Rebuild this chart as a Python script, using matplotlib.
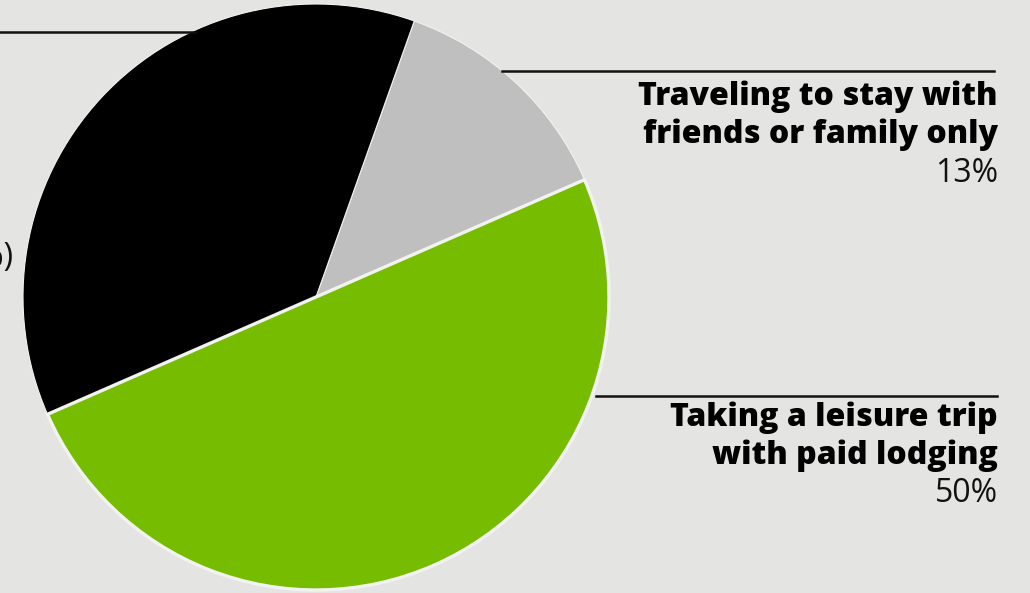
import matplotlib.pyplot as plt

# share of respondents by travel plan
labels = ['Traveling to stay with\nfriends or family only',
          'Taking a leisure trip\nwith paid lodging',
          'Not traveling']
shares = [13, 50, 37]
colors = ['#bfbfbf', '#76bc00', '#000000']

W, H = 1030, 593
bg = '#e4e4e2'

plt.rcParams['font.family'] = ['Open Sans', 'DejaVu Sans']

fig = plt.figure(figsize=(W / 100, H / 100), dpi=100, facecolor=bg)
ax = fig.add_axes([0, 0, 1, 1])
ax.set_facecolor(bg)

cx, cy, r = 316, H - 297, 293
wedges, _ = ax.pie(shares, colors=colors, startangle=70.4, counterclock=False,
                   center=(cx, cy), radius=r,
                   wedgeprops=dict(edgecolor='#f2f2f0', linewidth=0.8))
# highlighted slice gets a thicker outline
wedges[1].set_linewidth(2.4)
wedges[1].set_zorder(3)

ax.set_xlim(0, W)
ax.set_ylim(0, H)
ax.set_aspect('equal')
ax.axis('off')

def y(v):
    return H - v

# leader lines
ax.plot([502, 994], [y(71), y(71)], color='#111111', lw=1.8, zorder=1)
ax.plot([596, 997], [y(396), y(396)], color='#111111', lw=1.8, zorder=1)
ax.plot([0, 195], [y(32), y(32)], color='#111111', lw=1.8, zorder=1)

# labels on the right
ax.text(998, y(115.5), labels[0], ha='right', va='center', fontsize=23,
        fontweight='heavy', color='#000000', linespacing=1.24)
ax.text(998, y(174), f'{shares[0]}%', ha='right', va='center', fontsize=23,
        fontweight='normal', color='#111111')
ax.text(998, y(436.5), labels[1], ha='right', va='center', fontsize=23,
        fontweight='heavy', color='#000000', linespacing=1.24)
ax.text(998, y(493), f'{shares[1]}%', ha='right', va='center', fontsize=23,
        fontweight='normal', color='#111111')

# label for the black slice runs off the left edge
ax.text(13, y(258), f'{labels[2]} ({shares[2]}%)', ha='right', va='center',
        fontsize=23, fontweight='normal', color='#111111')

fig.savefig('out.png', dpi=100, facecolor=bg)
